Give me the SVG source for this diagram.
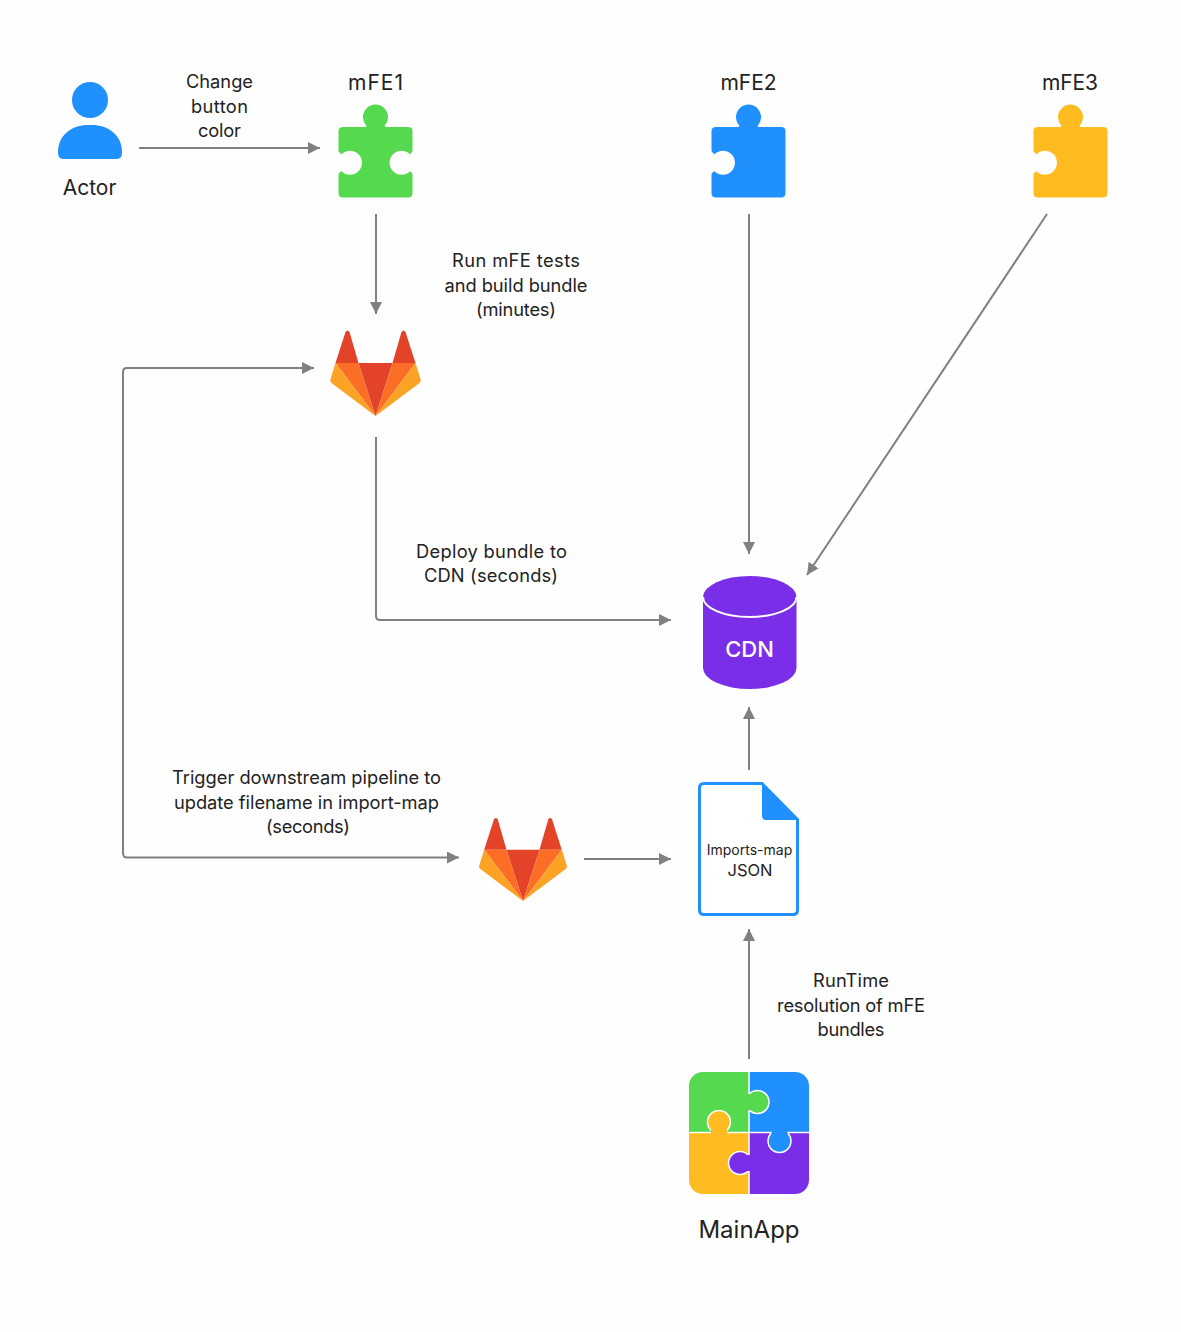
<svg xmlns="http://www.w3.org/2000/svg" width="1181" height="1332" viewBox="0 0 1181 1332">
<style>
text{font-family:"Inter","Liberation Sans",sans-serif;fill:#222;text-anchor:middle}
.l{font-size:18.3px}
.n{font-size:21px}
.c{fill:none;stroke:#808080;stroke-width:2;marker-end:url(#a)}
</style>
<defs>
<marker id="a" viewBox="0 0 10 10" refX="10" refY="5" markerWidth="6" markerHeight="6" orient="auto-start-reverse"><path d="M0 0L10 5L0 10Z" fill="#808080"/></marker>
<clipPath id="sq"><rect x="689" y="1072" width="120" height="122" rx="14"/></clipPath>
<path id="p2" d="M343 127H365.500L366.500 125.700A12.500 12.500 0 1 1 384.500 125.700L385.500 127H408Q412.500 127 412.500 131V193Q412.500 197.500 408 197.500H343Q338.500 197.500 338.500 193V174Q340 171.500 341.500 171.200A12 12 0 1 0 341.500 154.200Q340 153.500 338.500 151V131Q338.500 127 343 127Z"/>
<path id="p1" d="M343 127H365.500L366.500 125.700A12.500 12.500 0 1 1 384.500 125.700L385.500 127H408Q412.500 127 412.500 131V151Q411 153.500 410 154.200A12 12 0 1 0 410 171.200Q411 171.500 412.500 174V193Q412.500 197.500 408 197.500H343Q338.500 197.500 338.500 193V174Q340 171.500 341.500 171.200A12 12 0 1 0 341.500 154.200Q340 153.500 338.500 151V131Q338.500 127 343 127Z"/>
<g id="fox">
<path d="M-30 -52Q-28 -55 -26 -52L-17 -21H-40Z" fill="#e24329"/>
<path d="M30 -52Q28 -55 26 -52L17 -21H40Z" fill="#e24329"/>
<path d="M-17 -21H17L0 32Z" fill="#e24329"/>
<path d="M-40 -21H-17L0 32Z" fill="#fc6d26"/>
<path d="M40 -21H17L0 32Z" fill="#fc6d26"/>
<path d="M-40 -21L-45 -5Q-46 -3 -44 -1L0 32Z" fill="#fca326"/>
<path d="M40 -21L45 -5Q46 -3 44 -1L0 32Z" fill="#fca326"/>
</g>
</defs>
<rect width="1181" height="1332" fill="#fefefe"/>
<g id="connectors">
<path class="c" d="M139 148H320"/>
<path class="c" d="M376 214V314"/>
<path class="c" d="M749 214V554"/>
<path class="c" d="M1047 214L807 575"/>
<path class="c" d="M376 437V616Q376 620 380 620H671"/>
<path class="c" style="marker-start:url(#a)" d="M314 368H127Q123 368 123 372V853Q123 857.500 127 857.500H459"/>
<path class="c" d="M584 859H671"/>
<path class="c" d="M749 770V707"/>
<path class="c" d="M749 1059V929"/>
</g>
<g id="actor">
<circle cx="90" cy="100" r="18" fill="#2190ff"/>
<path d="M58 152C58 135 72 125 88 125H92C108 125 122 135 122 152V153Q122 159 116 159H64Q58 159 58 153Z" fill="#2190ff"/>
<text class="n" x="89.500" y="195">Actor</text>
</g>
<g id="mFE1">
<text class="n" x="375.500" y="90" textLength="55">mFE1</text>
<use href="#p1" fill="#54d94f"/>
</g>
<g id="mFE2">
<text class="n" x="748.500" y="90" textLength="56">mFE2</text>
<use href="#p2" fill="#2190ff" transform="translate(373)"/>
</g>
<g id="mFE3">
<text class="n" x="1070" y="90" textLength="56">mFE3</text>
<use href="#p2" fill="#ffbc21" transform="translate(695)"/>
</g>
<g id="gitlab1"><use href="#fox" transform="translate(375.500,384)"/></g>
<g id="gitlab2"><use href="#fox" transform="translate(523,870) scale(.97)"/></g>
<g id="cdn">
<path d="M703 597A46.750 21 0 0 1 796.500 597V668A46.750 21 0 0 1 703 668Z" fill="#7b2ee8"/>
<path d="M703 597A46.750 20 0 0 0 796.500 597" fill="none" stroke="#fff" stroke-width="2"/>
<text x="749.500" y="657" font-size="22" font-weight="500" style="fill:#fff">CDN</text>
</g>
<g id="importsMap">
<path d="M704 783.500H762L797.500 819.500V910Q797.500 914.500 793 914.500H704Q699.500 914.500 699.500 910V788Q699.500 783.500 704 783.500Z" fill="#fff" stroke="#2190ff" stroke-width="3"/>
<path d="M762 783L798 820H766Q762 820 762 816Z" fill="#2190ff"/>
<text x="749.500" y="855" font-size="14">Imports-map</text>
<text x="750" y="876" font-size="16.500">JSON</text>
</g>
<g id="mainApp">
<g clip-path="url(#sq)">
<rect x="689" y="1072" width="60" height="60" fill="#54d94f"/>
<rect x="749" y="1072" width="60" height="60" fill="#2190ff"/>
<rect x="689" y="1132" width="60" height="62" fill="#ffbc21"/>
<rect x="749" y="1132" width="60" height="62" fill="#7b2ee8"/>
<path d="M749 1072V1194M689 1132.500H809" stroke="#fff" stroke-width="1.500"/>
<circle cx="757.500" cy="1102" r="11.500" fill="#54d94f" stroke="#fff" stroke-width="1.500"/>
<rect x="743" y="1094" width="10" height="16" fill="#54d94f"/>
<circle cx="719" cy="1122" r="11.500" fill="#ffbc21" stroke="#fff" stroke-width="1.500"/>
<rect x="711" y="1127" width="16" height="10" fill="#ffbc21"/>
<circle cx="779.500" cy="1141" r="11.500" fill="#2190ff" stroke="#fff" stroke-width="1.500"/>
<rect x="771.500" y="1127" width="16" height="10" fill="#2190ff"/>
<circle cx="740" cy="1163" r="11.500" fill="#7b2ee8" stroke="#fff" stroke-width="1.500"/>
<rect x="744.500" y="1155" width="10" height="16" fill="#7b2ee8"/>
</g>
<text x="749" y="1238" font-size="24">MainApp</text>
</g>
<g id="labels">
<text class="l" x="219.500" y="88" textLength="67">Change</text>
<text class="l" x="219.500" y="113" textLength="57">button</text>
<text class="l" x="219.500" y="137" textLength="43">color</text>
<text class="l" x="516" y="267" textLength="128">Run mFE tests</text>
<text class="l" x="516" y="292" textLength="143">and build bundle</text>
<text class="l" x="516" y="316" textLength="80">(minutes)</text>
<text class="l" x="491.500" y="558" textLength="151">Deploy bundle to</text>
<text class="l" x="491" y="582" textLength="134">CDN (seconds)</text>
<text class="l" x="306.500" y="784" textLength="269">Trigger downstream pipeline to</text>
<text class="l" x="306.500" y="809" textLength="265">update filename in import-map</text>
<text class="l" x="308" y="833" textLength="84">(seconds)</text>
<text class="l" x="851" y="987" textLength="76">RunTime</text>
<text class="l" x="851" y="1012" textLength="148">resolution of mFE</text>
<text class="l" x="851" y="1036" textLength="67">bundles</text>
</g>
</svg>
